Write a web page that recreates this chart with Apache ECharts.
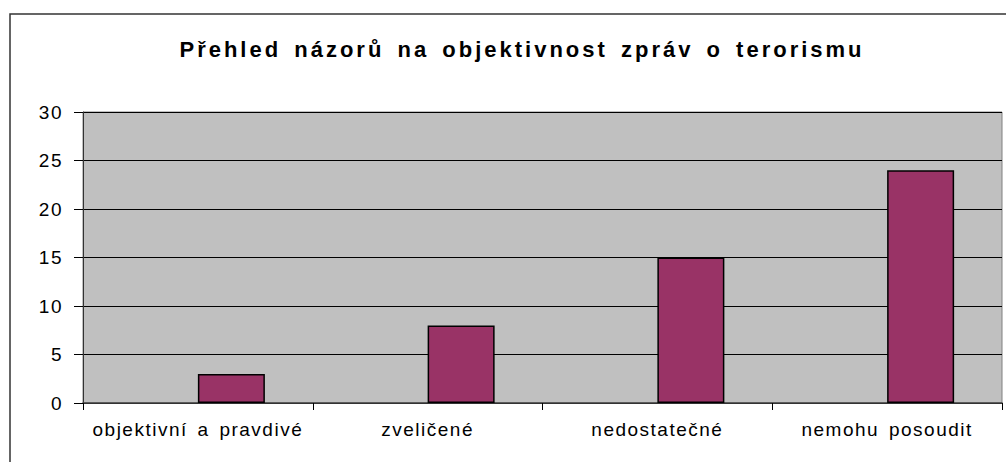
<!DOCTYPE html>
<html>
<head>
<meta charset="utf-8">
<script src="https://cdn.jsdelivr.net/npm/echarts@6/dist/echarts.min.js"></script>
<style>
  html, body { margin: 0; padding: 0; background: #fff; }
  #chart { width: 1006px; height: 462px; }
  /* the original output is stretched wide, so spread the letters */
  #chart svg text { letter-spacing: 1.5px; word-spacing: 3px; }
  #chart svg text[style*="bold"] { letter-spacing: 3px; word-spacing: 4px; }
</style>
</head>
<body>
<div id="chart"></div>
<script>
const titleText = 'Přehled názorů na objektivnost zpráv o terorismu'
const categories = ['objektivní a pravdivé', 'zveličené', 'nedostatečné', 'nemohu posoudit']
const values = [3, 8, 15, 24]
const yTicks = { min: 0, max: 30, interval: 5 }

const chart = echarts.init(document.getElementById('chart'), null, { renderer: 'svg' })
chart.setOption({
  animation: false,
  backgroundColor: '#fff',
  title: {
    text: titleText,
    left: 517,
    top: 33,
    textAlign: 'center',
    textStyle: { fontFamily: 'Liberation Sans', fontWeight: 'bold', fontSize: 22, color: '#000' }
  },
  graphic: [
    {
      type: 'rect',
      z: -10,
      shape: { x: 10, y: 14, width: 1100, height: 600 },
      style: { fill: 'none', stroke: '#333', lineWidth: 1.5 }
    }
  ],
  grid: {
    left: 83, right: 4, top: 112, bottom: 59,
    show: true,
    backgroundColor: '#c0c0c0',
    borderColor: '#808080',
    borderWidth: 1
  },
  xAxis: {
    type: 'category',
    data: categories,
    axisLine: { lineStyle: { color: '#444', width: 1.5 } },
    axisTick: { show: true, length: 7, lineStyle: { color: '#000' } },
    axisLabel: {
      interval: 0, hideOverlap: false,
      color: '#000', fontFamily: 'Liberation Sans', fontSize: 19, margin: 17
    }
  },
  yAxis: {
    type: 'value',
    min: yTicks.min,
    max: yTicks.max,
    interval: yTicks.interval,
    axisLine: { show: true, lineStyle: { color: '#333', width: 1 } },
    axisTick: { show: true, length: 9, lineStyle: { color: '#000' } },
    axisLabel: { color: '#000', fontFamily: 'Liberation Sans', fontSize: 19, margin: 20 },
    splitLine: { lineStyle: { color: '#000', width: 1 } }
  },
  series: [
    {
      // empty companion series, pushes real bars to the right half of each slot
      type: 'bar',
      data: categories.map(() => '-'),
      barWidth: 67,
      barGap: '0%'
    },
    {
      type: 'bar',
      data: values,
      barWidth: 67,
      barGap: '0%',
      itemStyle: { color: '#993366', borderColor: '#000', borderWidth: 1.5 }
    }
  ]
})
</script>
</body>
</html>
